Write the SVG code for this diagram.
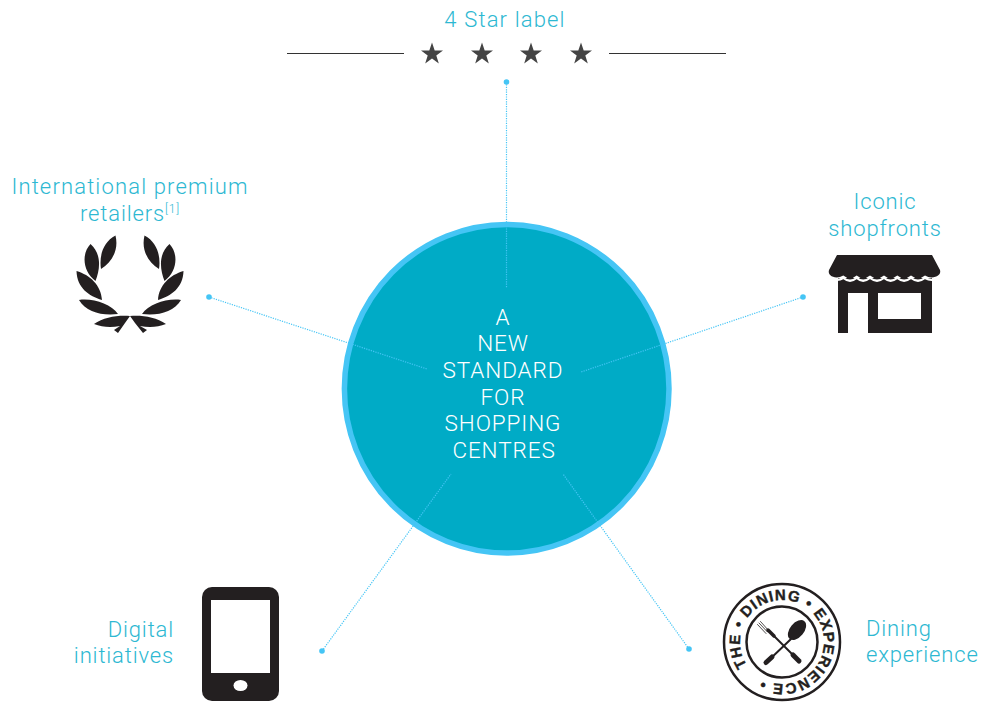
<svg xmlns="http://www.w3.org/2000/svg" width="984" height="704" viewBox="0 0 984 704">
<style>
.l{font-family:"Roboto","Liberation Sans",sans-serif;font-weight:300;font-size:22px;fill:#2db8d2;text-anchor:middle;letter-spacing:.85px}
.w{letter-spacing:1.15px}
.c{font-family:"Roboto","Liberation Sans",sans-serif;font-weight:300;font-size:22.5px;fill:#fff;text-anchor:middle;letter-spacing:.9px}
.k{fill:#231f20}
.con{stroke:#45c5f5;stroke-width:1.2;stroke-dasharray:1.2 1.2;fill:none}
.d{fill:#45c5f5}
.b{font-family:"Liberation Sans",sans-serif;font-weight:700;font-size:15px;fill:#231f20;stroke:#231f20;stroke-width:.4;letter-spacing:1px}
.ln{stroke:#231f20;fill:none;stroke-linecap:round}
</style>
<defs>
<path id="star" d="M0-11.500 2.700-3.600 11-3.600 4.300 1.400 6.800 9.400 0 4.500-6.800 9.400-4.300 1.400-11-3.600-2.700-3.600Z" fill="#444"/>
<path id="arc" d="M782 684A42 42 0 1 1 782.010 684"/>
</defs>
<g id="circle">
<ellipse cx="506.700" cy="388.700" rx="162.300" ry="164.300" fill="#00abc6" stroke="#45c5f5" stroke-width="5.500"/>
<g class="c">
<text x="503" y="325">A</text>
<text x="503" y="351">NEW</text>
<text x="503" y="378">STANDARD</text>
<text x="503" y="405">FOR</text>
<text x="503" y="431">SHOPPING</text>
<text x="504" y="458">CENTRES</text>
</g>
</g>
<g id="connectors">
<path class="con" d="M506.500 82V288M209 297 427 369M803 297 581 372M322 651 451 474M689 649 563 474"/>
<circle class="d" cx="506.500" cy="82" r="2.800"/>
<circle class="d" cx="209" cy="297" r="2.800"/>
<circle class="d" cx="803" cy="297" r="2.800"/>
<circle class="d" cx="322" cy="651" r="2.800"/>
<circle class="d" cx="689" cy="649" r="2.800"/>
</g>
<g id="star-label">
<text class="l w" x="505" y="27">4 Star label</text>
<path d="M287 53.500H404M609 53.500H726" stroke="#333" stroke-width="1" fill="none"/>
<use href="#star" x="432" y="54"/><use href="#star" x="482" y="54"/><use href="#star" x="531" y="54"/><use href="#star" x="581" y="54"/>
</g>
<g id="retailers">
<text class="l w" x="130" y="194">International premium</text>
<text class="l" x="130" y="221">retailers<tspan font-size="12" dy="-8">[1]</tspan></text>
<g class="k">
<path d="M115.500 235.500C103 242 99 256 101 269C112 262 119 250 115.500 235.500ZM90.500 244C81 254 83 272 95.500 281C100 270 102 254 90.500 244ZM76.500 271C77 288 89 296 102 300C101 285 90 275 76.500 271ZM79 300C86 312 102 316 118 314C111 304 93 298 79 300ZM94 324C104 317 118 315 130 316L125 323 118 333 114 330 120 326C110 328 102 327 94 324Z"/>
<path d="M144.500 235.500C157 242 161 256 159 269C148 262 141 250 144.500 235.500ZM169.500 244C179 254 177 272 164.500 281C160 270 158 254 169.500 244ZM183.500 271C183 288 171 296 158 300C159 285 170 275 183.500 271ZM181 300C174 312 158 316 142 314C149 304 167 298 181 300ZM166 324C156 317 142 315 130 316L135 323 143 333 147 330 140 326C150 328 158 327 166 324Z"/>
</g>
</g>
<g id="shopfronts">
<text class="l" x="885" y="209">Iconic</text>
<text class="l" x="885" y="236">shopfronts</text>
<path class="k" d="M838 278H932V333H868V293H848V333H838ZM878 293V319H921V293Z" fill-rule="evenodd"/>
<path d="M829 276.500Q836 282.500 843.300 278Q850 283.500 856.700 278Q863 283.500 870 278Q877 283.500 884 278Q890.500 283.500 897.300 278Q904 283.500 911 278Q918 283.500 925 278Q933 282.500 940 276.500" fill="none" stroke="#fff" stroke-width="2.200"/>
<path class="k" d="M837 255H932L940 270C942 276 932 280 925 275.500Q918 281 911 275.500Q904 281 897.300 275.500Q890.500 281 884 275.500Q877 281 870 275.500Q863 281 856.700 275.500Q850 281 843.300 275.500C836 280 827 276 829 270Z"/>
</g>
<g id="digital">
<text class="l" x="174" y="637" style="text-anchor:end">Digital</text>
<text class="l" x="174" y="663" style="text-anchor:end">initiatives</text>
<rect class="k" x="202" y="587" width="77" height="114" rx="10"/>
<rect x="211" y="600" width="59" height="73" fill="#fff"/>
<ellipse cx="240.500" cy="685.500" rx="7" ry="5.500" fill="#fff"/>
</g>
<g id="dining">
<text class="l" x="866" y="636" style="text-anchor:start">Dining</text>
<text class="l" x="866" y="662" style="text-anchor:start">experience</text>
<circle cx="782" cy="642" r="58" fill="none" stroke="#231f20" stroke-width="2.500"/>
<circle cx="782" cy="642" r="35.500" fill="none" stroke="#231f20" stroke-width="2.500"/>
<text class="b" transform="rotate(56 782 642)"><textPath href="#arc">THE • DINING • EXPERIENCE •</textPath></text>
<ellipse class="k" cx="797" cy="630" rx="7" ry="11.500" transform="rotate(40 797 630)"/>
<path class="ln" stroke-width="2" d="M791 639 769 660"/>
<path class="ln" stroke-width="5" d="M772 657 766 662.500"/>
<path class="ln" stroke-width="2" d="M773 635 797 659"/>
<path class="ln" stroke-width="5" d="M793 655 799 661"/>
<path class="ln" stroke-width="3.500" d="M768 630 774 636"/>
<path class="ln" stroke-width=".8" d="M769 631 760.500 621.500M767.500 632 759 623M766 633.500 757.500 624.500"/>
</g>
</svg>
